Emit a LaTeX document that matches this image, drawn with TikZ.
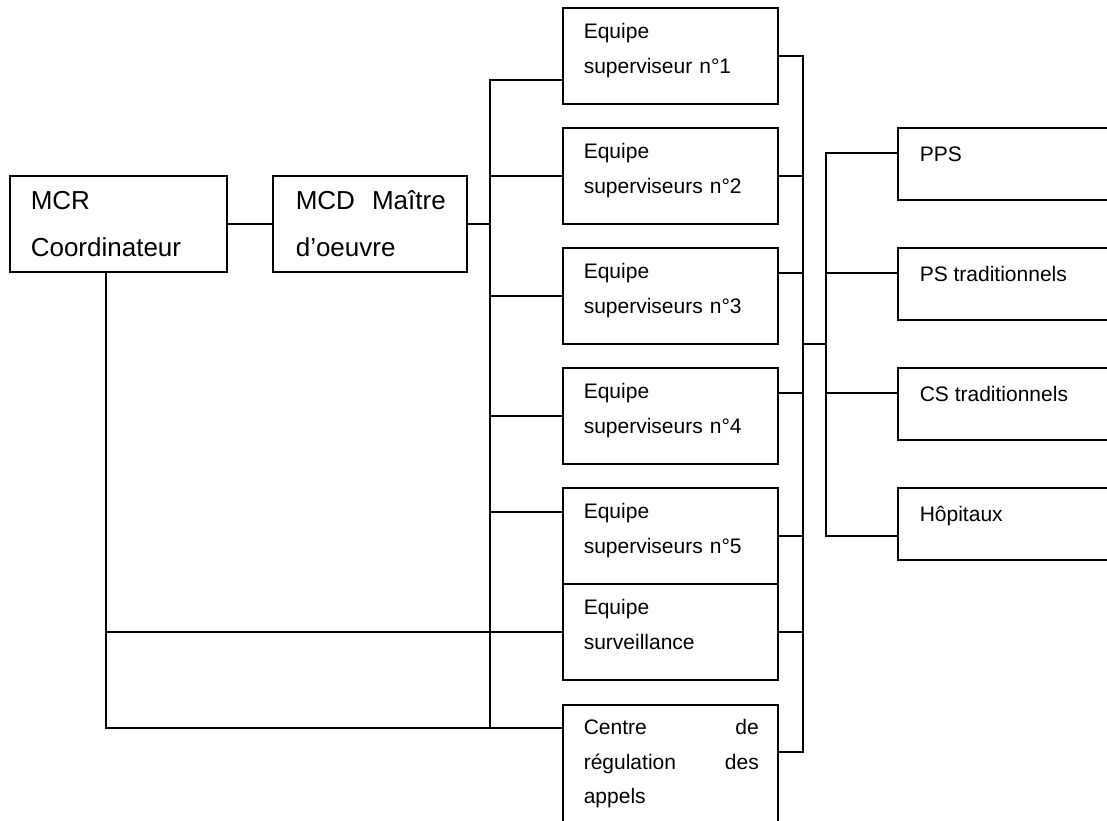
\documentclass[tikz,border=0pt]{standalone}
\usepackage{fontspec}
\setmainfont{Liberation Sans}
\newlength{\lw}
\setlength{\lw}{0.8pt}

\begin{document}
\begin{tikzpicture}[x=0.5pt,y=-0.5pt,line width=\lw,
    box/.style={draw,rectangle,anchor=north west,inner sep=0pt,outer sep=0pt},
    bigbox/.style={box,minimum height=48pt},
    ebox/.style={box,minimum width=107.5pt,minimum height=48pt},
    rbox/.style={box,minimum width=120pt,minimum height=36pt},
    bigtxt/.style={anchor=north west,inner sep=0pt,align=left,font=\fontsize{13}{23.4}\selectfont,xshift=10pt,yshift=-0.2pt},
    etxt/.style={anchor=north west,inner sep=0pt,align=left,text width=87.5pt,font=\fontsize{10.5}{17.2}\selectfont,xshift=10pt,yshift=-2.96pt},
    rtxt/.style={anchor=north west,inner sep=0pt,align=left,font=\fontsize{10.5}{17.2}\selectfont,xshift=10.5pt,yshift=-4.46pt}]
    \clip (0,0) rectangle (1107,820);
    \node[bigbox,minimum width=108.5pt,label={[bigtxt,text width=88pt]north west:{\strut MCR\\\strut Coordinateur}}] (mcr) at (10,176) {};
    \node[bigbox,minimum width=97pt,label={[bigtxt,text width=75pt,xshift=1pt]north west:{\strut MCD\hfill Maître\\\strut d’oeuvre}}] (mcd) at (273,176) {};
    \node[ebox,label={[etxt]north west:{\strut Equipe\\\strut superviseur n°1}}] (e1) at (563,8) {};
    \node[ebox,label={[etxt]north west:{\strut Equipe\\\strut superviseurs n°2}}] (e2) at (563,128) {};
    \node[ebox,label={[etxt]north west:{\strut Equipe\\\strut superviseurs n°3}}] (e3) at (563,248) {};
    \node[ebox,label={[etxt]north west:{\strut Equipe\\\strut superviseurs n°4}}] (e4) at (563,368) {};
    \node[ebox,label={[etxt]north west:{\strut Equipe\\\strut superviseurs n°5}}] (e5) at (563,488) {};
    \node[ebox,label={[etxt]north west:{\strut Equipe\\\strut surveillance}}] (surv) at (563,584) {};
    \node[ebox,minimum height=65pt,label={[etxt,yshift=0.5pt]north west:{\strut Centre\hfill de\\\strut régulation\hfill des\\\strut appels}}] (centre) at (563,705) {};
    \node[rbox,label={[rtxt]north west:{\strut PPS}}] (pps) at (898,128) {};
    \node[rbox,label={[rtxt]north west:{\strut PS traditionnels}}] (ps) at (898,248) {};
    \node[rbox,label={[rtxt]north west:{\strut CS traditionnels}}] (cs) at (898,368) {};
    \node[rbox,label={[rtxt]north west:{\strut Hôpitaux}}] (hop) at (898,488) {};
    \coordinate (lbus) at (490,0);
    \coordinate (rbus) at (803,0);
    \coordinate (sbus) at (826,0);
    \coordinate (mcrdown) at (106,272);
    \coordinate (e1in) at ([shift={(0,72)}]e1.north west);
    \coordinate (e5in) at ([shift={(0,24)}]e5.north west);
    \coordinate (cin) at ([shift={(0,23)}]centre.north west);
    \coordinate (e3out) at ([shift={(0,25)}]e3.north east);
    \coordinate (e4out) at ([shift={(0,25)}]e4.north east);
    \coordinate (cout) at ([shift={(0,47)}]centre.north east);
    \coordinate (ppsin) at ([shift={(0,25)}]pps.north west);
    \coordinate (psin) at ([shift={(0,25)}]ps.north west);
    \coordinate (csin) at ([shift={(0,25)}]cs.north west);
    \coordinate (hopin) at ([shift={(0,48)}]hop.north west);
    \coordinate (jn) at (826,344);
    \draw (mcr) -- (mcd);
    \draw (mcd) -- (mcd -| lbus);
    \draw (e1in) -| (lbus |- cin) -- (cin);
    \draw (e2) -- (e2 -| lbus);
    \draw (e3) -- (e3 -| lbus);
    \draw (e4) -- (e4 -| lbus);
    \draw (e5in) -- (e5in -| lbus);
    \draw (mcrdown) |- (cin);
    \draw (mcrdown |- surv) -- (surv);
    \draw (e1) -| (rbus |- cout) -- (cout);
    \draw (e2) -- (e2 -| rbus);
    \draw (e3out) -- (e3out -| rbus);
    \draw (e4out) -- (e4out -| rbus);
    \draw (e5) -- (e5 -| rbus);
    \draw (surv) -- (surv -| rbus);
    \draw (jn -| rbus) -- (jn);
    \draw (ppsin) -| (sbus |- hopin) -- (hopin);
    \draw (psin) -- (psin -| sbus);
    \draw (csin) -- (csin -| sbus);
\end{tikzpicture}
\end{document}
